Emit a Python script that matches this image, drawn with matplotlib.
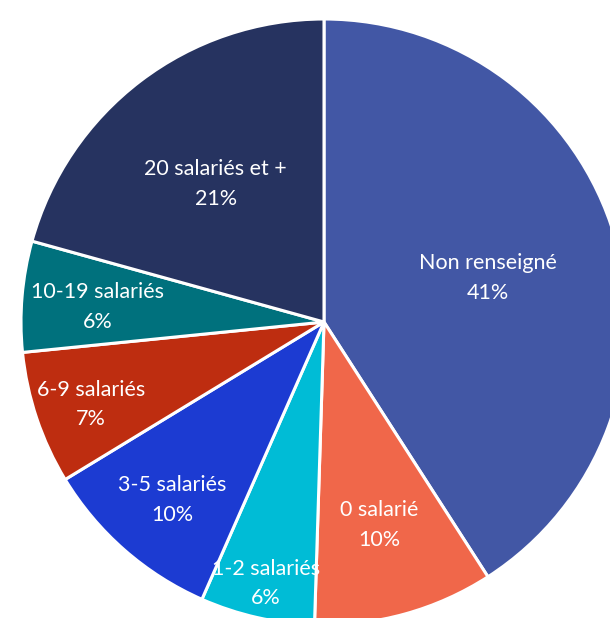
import numpy as np
import matplotlib.pyplot as plt

# Répartition des établissements par tranche d'effectif
labels = ['Non renseigné', '0 salarié', '1-2 salariés', '3-5 salariés',
          '6-9 salariés', '10-19 salariés', '20 salariés et +']
values = [40.9, 9.6, 6.1, 9.7, 7.1, 5.9, 20.7]
colors = ['#4257A5', '#F0674A', '#00BCD6', '#1C3BD2', '#BE2D10', '#00717D', '#263360']
# distance of each label from the centre (fraction of radius)
label_r = [0.565, 0.68, 0.87, 0.76, 0.81, 0.75, 0.59]

plt.rcParams['font.family'] = ['Lato', 'DejaVu Sans']

fig = plt.figure(figsize=(6.10, 6.18), dpi=100)
ax = fig.add_axes([21 / 610, (618 - 322 - 303) / 618, 606 / 610, 606 / 618])

wedges, _ = ax.pie(values, colors=colors, startangle=90, counterclock=False,
                   radius=1, wedgeprops=dict(edgecolor='white', linewidth=2.2))

total = sum(values)
for w, lab, v, r in zip(wedges, labels, values, label_r):
    mid = np.deg2rad((w.theta1 + w.theta2) / 2)
    ax.text(r * np.cos(mid), r * np.sin(mid) - 0.015, f'{lab}\n{v / total * 100:.0f}%',
            ha='center', va='center', color='white', fontsize=15.5,
            linespacing=1.6)

ax.set_xlim(-1, 1)
ax.set_ylim(-1, 1)
ax.set_aspect('equal')
ax.axis('off')

fig.savefig('out.png', dpi=100)
